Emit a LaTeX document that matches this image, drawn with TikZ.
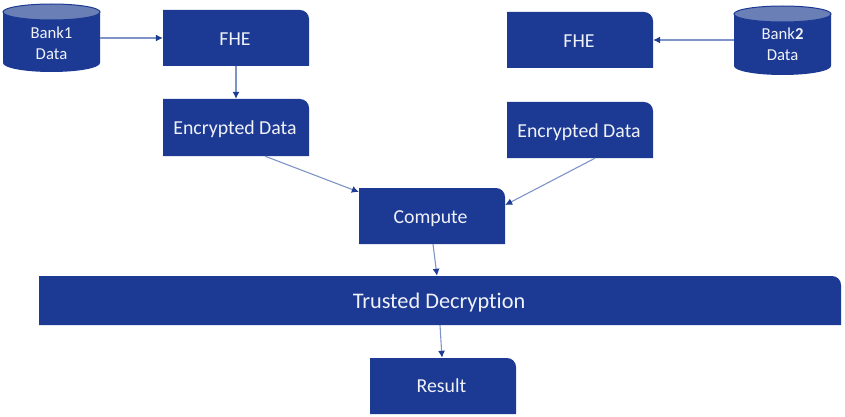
\documentclass[tikz,border=0pt]{standalone}
\usepackage{fontspec}
\setmainfont{Carlito}[Ligatures=CommonOff]
\usetikzlibrary{arrows.meta,shapes.geometric}
\definecolor{boxblue}{HTML}{1C3A94}
\definecolor{capblue}{HTML}{6A7FB6}
\definecolor{linkblue}{HTML}{7E93C6}
\definecolor{tipblue}{HTML}{1F3C94}
\definecolor{txt}{HTML}{F0F2F8}
\tikzset{
  x=1pt,y=-1pt,
  boxlabel/.style={text=txt,font=\fontsize{19.8}{22}\selectfont,inner sep=0pt,align=center},
  link/.style={draw=linkblue,line width=1.1pt,-{Latex[length=7pt,width=7pt,color=tipblue]}},
  boxfill/.style={fill=boxblue,draw=none},
}
% move a label: left by half of #1, up by #2, keeping the size of the node
\newcommand{\nudge}[3]{\raisebox{#2}[\height][\depth]{#3}\hspace*{#1}}
% left, top, right, bottom, name, text
\newcommand{\tabbox}[6]{%
  \path[boxfill] (#1,#2) -- ({#3-9},#2) arc[start angle=90,end angle=0,radius=9pt] -- (#3,#4) -- (#1,#4) -- cycle;
  \node[boxlabel,minimum width={#3-#1},minimum height={#4-#2}] (#5) at ({(#1+#3)/2},{(#2+#4)/2}) {#6};
}
% left, top, right, bottom, name, text, text centre y
\newcommand{\drum}[7]{%
  \path[boxfill] (#1,{#2+9}) -- (#1,{#4-9}) arc[start angle=180,end angle=360,x radius={(#3-#1)/2*1pt},y radius=9pt] -- (#3,{#2+9}) -- cycle;
  \path[fill=capblue,draw=boxblue,line width=1pt] ({(#1+#3)/2},{#2+9}) ellipse[x radius={(#3-#1)/2*1pt},y radius=8pt];
  \node[boxlabel,font=\fontsize{16.7}{21}\selectfont,minimum width={#3-#1},minimum height=40] (#5) at ({(#1+#3)/2},#7) {#6};
}
\begin{document}
\begin{tikzpicture}
\useasboundingbox (0,0) rectangle (845,417);
\drum{3}{3}{100}{72}{bank1}{Bank1\\Data}{43.5}
\drum{734}{5}{831}{75}{bank2}{Bank\textbf{2}\\Data}{44}
\tabbox{163}{10}{309}{66}{fhe1}{\nudge{2pt}{-1pt}{FHE}}
\tabbox{163}{99}{309}{156}{enc1}{\nudge{2pt}{-2pt}{Encrypted Data}}
\tabbox{507}{12}{653}{68}{fhe2}{\nudge{2pt}{-1pt}{FHE}}
\tabbox{507}{102}{653}{158}{enc2}{\nudge{2pt}{-2pt}{Encrypted Data}}
\tabbox{359}{188}{505}{244}{comp}{\nudge{3pt}{-3pt}{Compute}}
\tabbox{39}{276}{841}{325}{trust}{\nudge{2pt}{-2.5pt}{\fontsize{22.3}{24}\selectfont Trusted Decryption}}
\tabbox{370}{358}{516}{414}{res}{\nudge{3pt}{0pt}{Result}}
\coordinate (a1) at ([xshift=29pt]enc1.south);
\coordinate (a2) at ([yshift=24pt]comp.west);
\coordinate (b1) at ([xshift=15pt]enc2.south);
\coordinate (b2) at ([yshift=11pt]comp.east);
\coordinate (c1) at ([xshift=1pt]comp.south);
\coordinate (c2) at ([xshift=-3pt]trust.north);
\coordinate (d1) at ([xshift=0pt]trust.south);
\coordinate (d2) at ([xshift=-1pt]res.north);
\path[link] (bank1.east |- fhe1.west) -- (fhe1.west);
\path[link] (fhe1.south) -- (enc1.north);
\path[link] (bank2.west |- fhe2.east) -- (fhe2.east);
\path[link] (a1) -- (a2);
\path[link] (b1) -- (b2);
\path[link] (c1) -- (c2);
\path[link] (d1) -- (d2);
\end{tikzpicture}
\end{document}
